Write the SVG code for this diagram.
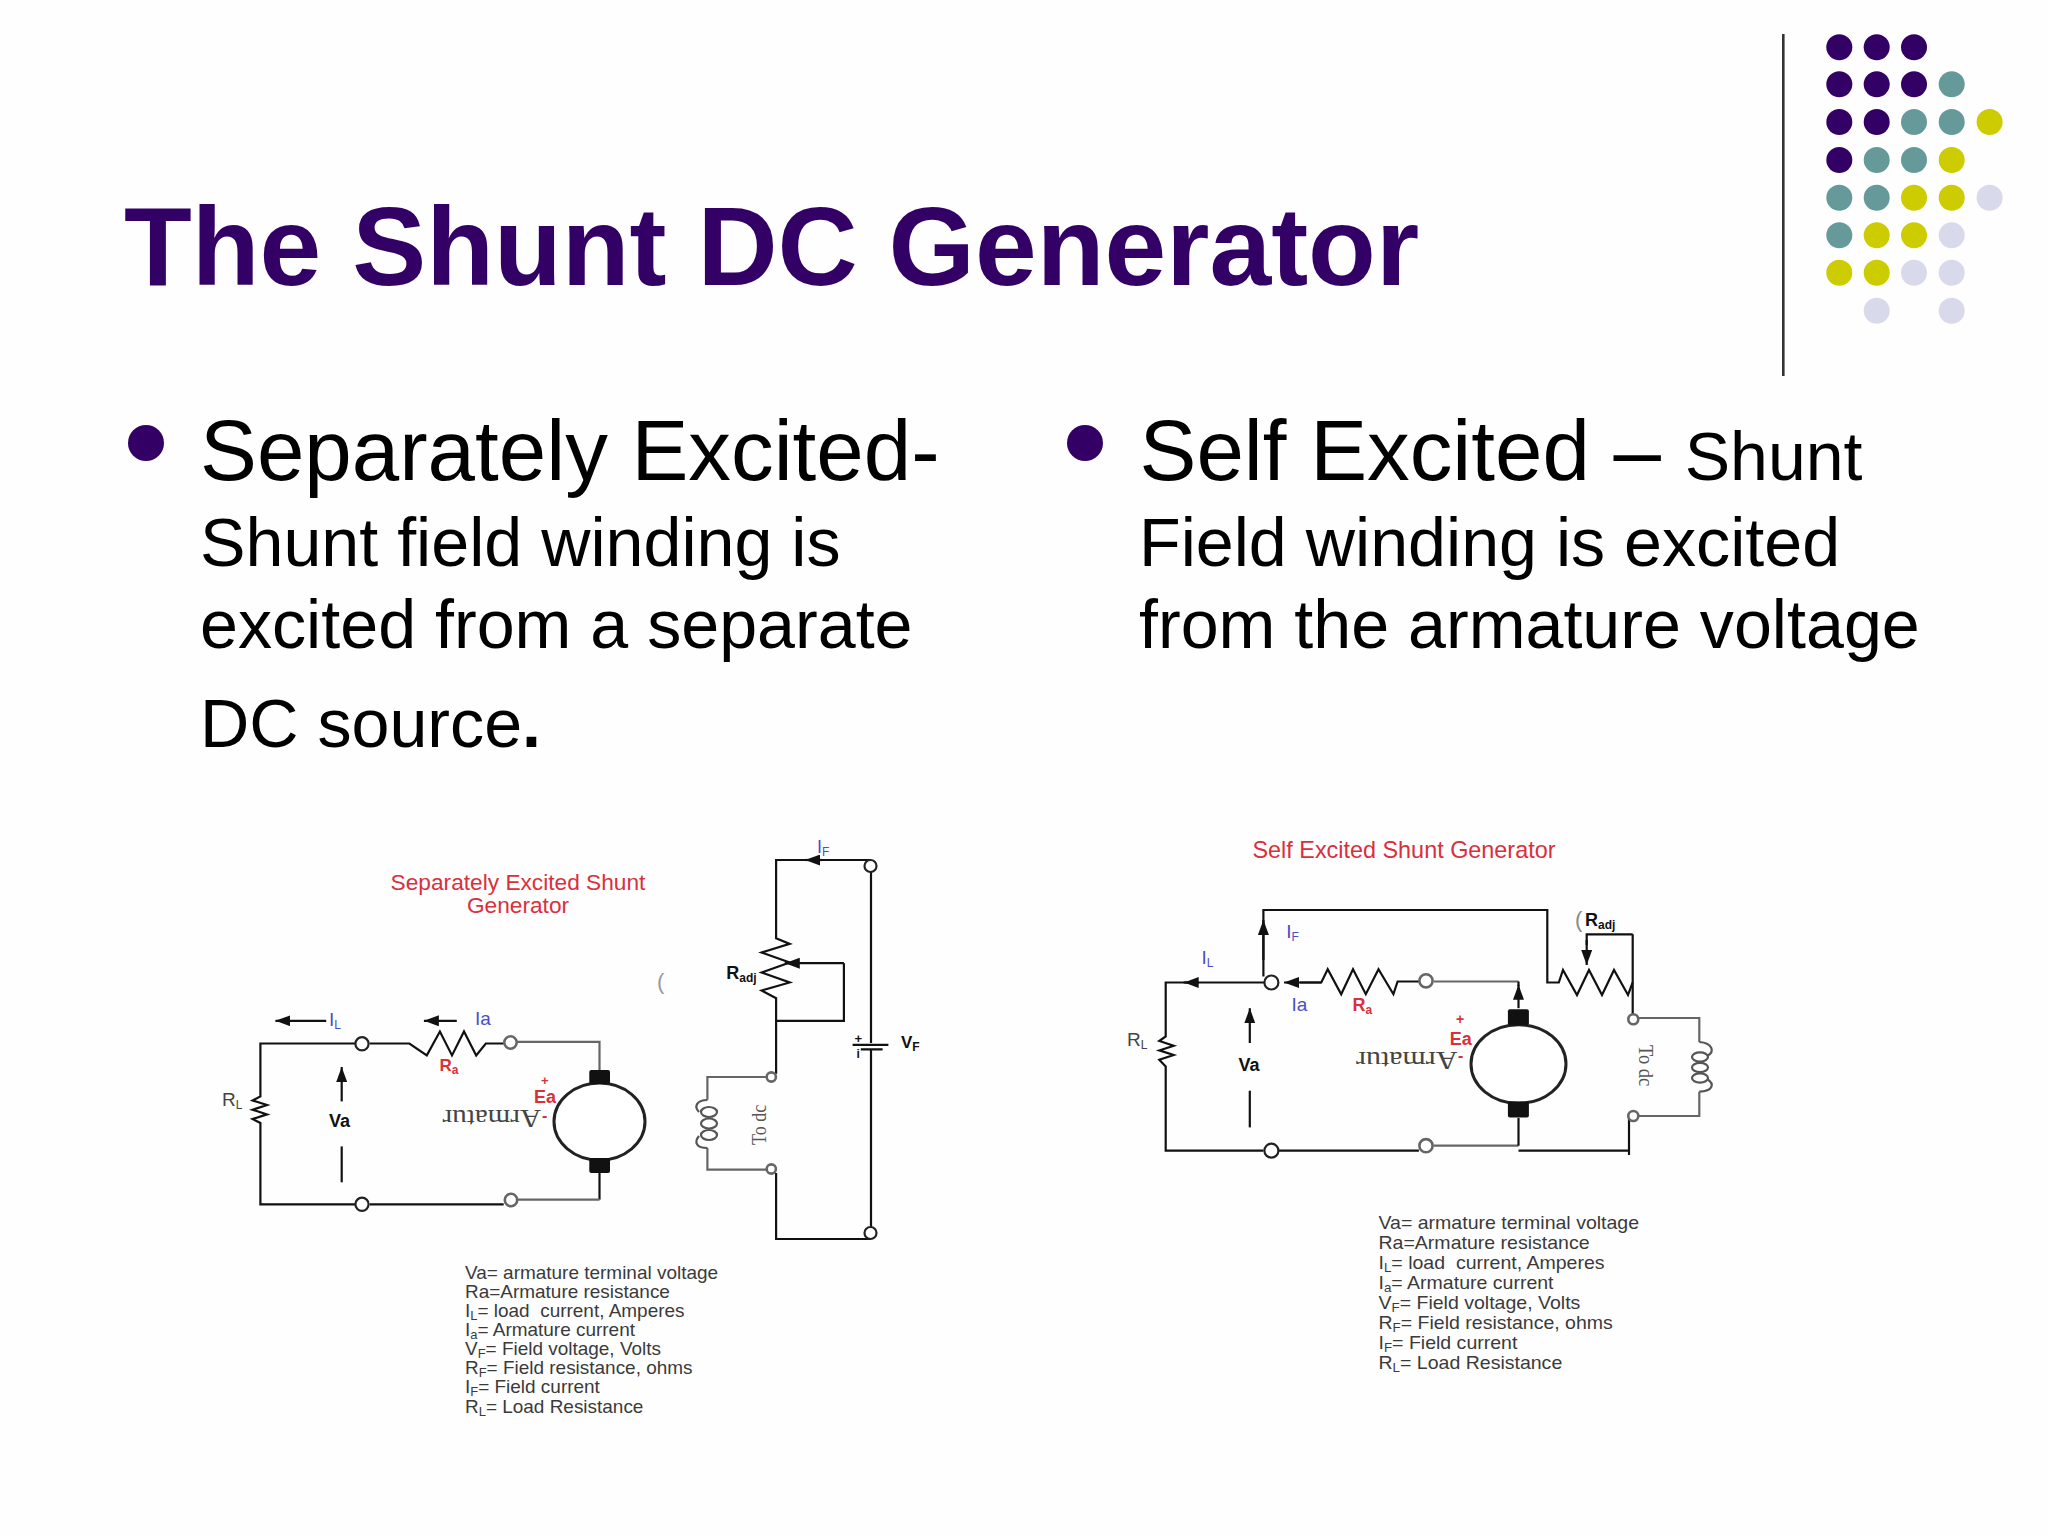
<svg xmlns="http://www.w3.org/2000/svg" width="2048" height="1536" viewBox="0 0 2048 1536">
<style>
text{font-family:"Liberation Sans",Arial,sans-serif}
.title{font-size:111px;font-weight:700;fill:#330066}
.b1{font-size:85.3px;fill:#000}
.b2{font-size:68.2px;fill:#000}
.w{fill:none;stroke:#111;stroke-width:2.2;stroke-linejoin:miter}
.a{fill:none;stroke:#111;stroke-width:2.2;marker-end:url(#ah)}
.g{fill:none;stroke:#666;stroke-width:2.2}
.t{fill:#fff;stroke:#222;stroke-width:2.2}
.tg{fill:#fff;stroke:#666;stroke-width:2.6}
.red{fill:#d9303c}
.redb{fill:#d9303c;font-weight:700}
.blue{fill:#4a4fc4}
.bk{fill:#111;font-weight:700}
.gr{fill:#444}
.ser{font-family:"Liberation Serif","Times New Roman",serif;fill:#555}
.arm{font-family:"Liberation Serif","Times New Roman",serif;fill:#444;font-size:30px}
.leg{font-size:17.6px;fill:#3a3a3a;white-space:pre}
.s{font-size:12px}
.d1{fill:#330066}.d2{fill:#669999}.d3{fill:#cccc00}.d4{fill:#d9d9ec}
.coil{fill:none;stroke:#555;stroke-width:2.2}
</style>
<defs>
<marker id="ah" markerUnits="userSpaceOnUse" markerWidth="15" markerHeight="11" refX="15" refY="5.5" orient="auto"><path d="M0 0L15 5.5L0 11Z" fill="#111"/></marker>
</defs>
<rect width="2048" height="1536" fill="#fefefe"/>
<g id="decor">
<line x1="1783.3" y1="34" x2="1783.3" y2="376" stroke="#333" stroke-width="2.6"/>
<g id="dots">
<circle class="d1" cx="1839.3" cy="47.3" r="13"/><circle class="d1" cx="1876.7" cy="47.3" r="13"/><circle class="d1" cx="1914" cy="47.3" r="13"/>
<circle class="d1" cx="1839.3" cy="84.3" r="13"/><circle class="d1" cx="1876.7" cy="84.3" r="13"/><circle class="d1" cx="1914" cy="84.3" r="13"/><circle class="d2" cx="1951.7" cy="84.3" r="13"/>
<circle class="d1" cx="1839.3" cy="122" r="13"/><circle class="d1" cx="1876.7" cy="122" r="13"/><circle class="d2" cx="1914" cy="122" r="13"/><circle class="d2" cx="1951.7" cy="122" r="13"/><circle class="d3" cx="1989.6" cy="122" r="13"/>
<circle class="d1" cx="1839.3" cy="160" r="13"/><circle class="d2" cx="1876.7" cy="160" r="13"/><circle class="d2" cx="1914" cy="160" r="13"/><circle class="d3" cx="1951.7" cy="160" r="13"/>
<circle class="d2" cx="1839.3" cy="197.7" r="13"/><circle class="d2" cx="1876.7" cy="197.7" r="13"/><circle class="d3" cx="1914" cy="197.7" r="13"/><circle class="d3" cx="1951.7" cy="197.7" r="13"/><circle class="d4" cx="1989.6" cy="197.7" r="13"/>
<circle class="d2" cx="1839.3" cy="235.3" r="13"/><circle class="d3" cx="1876.7" cy="235.3" r="13"/><circle class="d3" cx="1914" cy="235.3" r="13"/><circle class="d4" cx="1951.7" cy="235.3" r="13"/>
<circle class="d3" cx="1839.3" cy="272.7" r="13"/><circle class="d3" cx="1876.7" cy="272.7" r="13"/><circle class="d4" cx="1914" cy="272.7" r="13"/><circle class="d4" cx="1951.7" cy="272.7" r="13"/>
<circle class="d4" cx="1876.7" cy="310.7" r="13"/><circle class="d4" cx="1951.7" cy="310.7" r="13"/>
</g>
</g>
<text id="title" class="title" x="124" y="285">The Shunt DC Generator</text>
<g id="left-text">
<circle cx="146" cy="443" r="18" fill="#330066"/>
<text class="b1" x="200" y="480">Separately Excited-</text>
<text class="b2" x="200" y="566">Shunt field winding is</text>
<text class="b2" x="200" y="648">excited from a separate</text>
<text class="b2" x="200" y="747">DC source<tspan font-weight="700">.</tspan></text>
</g>
<g id="right-text">
<circle cx="1085" cy="443" r="18" fill="#330066"/>
<text class="b1" x="1139.5" y="480">Self Excited – <tspan font-size="68">Shunt</tspan></text>
<text class="b2" x="1139" y="566">Field winding is excited</text>
<text class="b2" x="1139" y="648">from the armature voltage</text>
</g>

<g id="separately-excited">
<g id="sep-connectors">
<path class="w" d="M355.2 1043.5H260.4V1096.4L252.6 1100.4L267 1105L252.6 1109.7L267 1114.4L252.6 1119L260.4 1123V1204.3H355.2"/>
<path class="w" d="M369.7 1043.5H409.4L426.8 1055.4L439.9 1031.5L452 1055.4L464 1031.5L476.2 1055.4L485.8 1043.5H503.7"/>
<path class="g" d="M517.3 1041.8H599.5V1070"/>
<path class="w" d="M599.5 1172.3V1199.6"/>
<path class="g" d="M599.5 1199.6H517.3"/>
<path class="w" d="M369.7 1204.3H503.7"/>
<path class="w" d="M870.5 860H776.1V938.2L789.7 943.9L761.6 952.5L789.7 962.5L761.6 972.5L789.7 982.5L761.6 990.5L776.1 998.2V1073.8"/>
<path class="a" d="M843.9 963.2H784.8"/>
<path class="w" d="M843.9 963.2V1020.8H776.1"/>
<path class="w" d="M871 870.6V1043M871 1049.8V1228M870.5 1239H776.1V1173"/>
<path class="g" d="M766.4 1077H707.4V1099.7M707.4 1148V1169.7H766.4"/>
<path class="w" d="M852.6 1044.8H888.4M860.8 1049.4H882.6"/>
<path class="a" d="M326.2 1020.8H275.4"/>
<path class="a" d="M456.8 1020.8H423.9"/>
<path class="a" d="M341.7 1101.4V1067"/>
<path class="w" d="M341.7 1146.4V1182.3"/>
<path class="a" d="M822 860H805.2"/>
</g>
<g id="sep-coil">
<path class="coil" d="M707.4 1100C696 1100 694 1107 699 1112M699 1136C694 1142 696 1148 707.4 1148"/>
<ellipse class="coil" cx="709" cy="1112" rx="8" ry="5"/><ellipse class="coil" cx="709" cy="1123.5" rx="8" ry="5"/><ellipse class="coil" cx="709" cy="1135" rx="8" ry="5"/>
</g>
<g id="sep-term-1"><circle class="t" cx="362" cy="1043.8" r="6.6"/></g>
<g id="sep-term-2"><circle class="t" cx="362" cy="1204.3" r="6.6"/></g>
<g id="sep-term-3"><circle class="tg" cx="510.5" cy="1042.5" r="6.2"/></g>
<g id="sep-term-4"><circle class="tg" cx="511" cy="1200" r="6.2"/></g>
<g id="sep-term-5"><circle class="t" cx="870.5" cy="866" r="6"/></g>
<g id="sep-term-6"><circle class="t" cx="870.5" cy="1233" r="6"/></g>
<g id="sep-term-7"><circle class="tg" cx="771.3" cy="1077" r="4.6"/></g>
<g id="sep-term-8"><circle class="tg" cx="771.3" cy="1169" r="4.6"/></g>
<g id="sep-armature">
<ellipse cx="599.5" cy="1121.6" rx="45.5" ry="38.5" fill="#fff" stroke="#222" stroke-width="3"/>
<rect x="589.3" y="1070" width="20.7" height="14" rx="2" fill="#111"/>
<rect x="589.3" y="1158" width="20.7" height="15" rx="2" fill="#111"/>
<text class="arm" transform="translate(541 1110) rotate(180) scale(.97 .85)">Armatur</text>
</g>
<g id="sep-labels">
<text class="red" x="518" y="889.5" font-size="22.7" text-anchor="middle">Separately Excited Shunt</text>
<text class="red" x="518" y="913" font-size="22.7" text-anchor="middle">Generator</text>
<text class="blue" x="329" y="1026" font-size="19">I<tspan class="s" dy="3">L</tspan></text>
<text class="blue" x="475" y="1025" font-size="19">Ia</text>
<text class="redb" x="439.4" y="1070.5" font-size="17">R<tspan class="s" dy="3">a</tspan></text>
<text class="redb" x="541" y="1085" font-size="13">+</text>
<text class="redb" x="534" y="1103" font-size="18">Ea</text>
<text class="redb" x="542" y="1121" font-size="16">-</text>
<text class="gr" x="222" y="1105.7" font-size="19">R<tspan class="s" dy="3">L</tspan></text>
<text class="bk" x="329" y="1127" font-size="18">Va</text>
<text class="bk" x="726.3" y="979" font-size="18">R<tspan class="s" dy="3">adj</tspan></text>
<text class="bk" x="901" y="1048" font-size="17">V<tspan class="s" dy="3">F</tspan></text>
<text class="blue" x="817" y="853" font-size="18">I<tspan class="s" dy="3">F</tspan></text>
<text class="bk" x="854.5" y="1043" font-size="13">+</text>
<text class="bk" x="856.4" y="1058" font-size="12">i</text>
<text x="657" y="989" font-size="22" fill="#999">(</text>
<text class="ser" font-size="21" transform="translate(766.4 1145) rotate(-90) scale(.86 1)">To dc</text>
</g>
</g>
<g id="sep-legend" transform="translate(465 1) scale(1.078 1)">
<text class="leg" x="0" y="1277.7">Va= armature terminal voltage</text>
<text class="leg" x="0" y="1296.7">Ra=Armature resistance</text>
<text class="leg" x="0" y="1316">I<tspan class="s" dy="3">L</tspan><tspan dy="-3">= load  current, Amperes</tspan></text>
<text class="leg" x="0" y="1335">I<tspan class="s" dy="3">a</tspan><tspan dy="-3">= Armature current</tspan></text>
<text class="leg" x="0" y="1354">V<tspan class="s" dy="3">F</tspan><tspan dy="-3">= Field voltage, Volts</tspan></text>
<text class="leg" x="0" y="1373.3">R<tspan class="s" dy="3">F</tspan><tspan dy="-3">= Field resistance, ohms</tspan></text>
<text class="leg" x="0" y="1392.3">I<tspan class="s" dy="3">F</tspan><tspan dy="-3">= Field current</tspan></text>
<text class="leg" x="0" y="1411.7">R<tspan class="s" dy="3">L</tspan><tspan dy="-3">= Load Resistance</tspan></text>
</g>

<g id="self-excited">
<g id="self-connectors">
<path class="w" d="M1264.4 982.5H1165.7V1036.5L1159.3 1041L1173.7 1045.8L1159.3 1050.4L1173.7 1055L1159.3 1059.8L1165.7 1066.4V1150.7H1263.4"/>
<path class="a" d="M1198.6 982.5H1183.7"/>
<path class="w" d="M1279 1150.7H1418.9"/>
<path class="g" d="M1433.7 1145.7H1518.5"/>
<path class="w" d="M1518.5 1145.7V1118"/>
<path class="g" d="M1518.5 981.5H1433.7"/>
<path class="a" d="M1518.5 1008.2V984.8"/>
<path class="w" d="M1518.5 981.5V986"/>
<path class="w" d="M1418.9 981.5H1397.6L1393.4 994.2L1378.5 969.2L1365.8 994.2L1353 969.2L1341.2 994.2L1327.7 969.2L1321.3 982.5H1300"/>
<path class="a" d="M1321.3 982.5H1284"/>
<path class="w" d="M1263.4 976.5V910H1547.3V982.5H1558.8L1563 970L1577 995L1589 970L1602 995L1614 970L1628 995L1632.7 982.5"/>
<path class="a" d="M1263.4 960V920"/>
<path class="w" d="M1632.7 934.3V1014.8M1632.7 934.3H1586.7V945"/>
<path class="a" d="M1586.7 940V965"/>
<path class="g" d="M1639 1018H1699.3V1042M1699.3 1091.7V1116H1639"/>
<path class="w" d="M1629 1116V1155M1518.5 1150.7H1630"/>
<path class="a" d="M1249.8 1043V1008.2"/>
<path class="w" d="M1249.8 1090.7V1127.4"/>
</g>
<g id="self-coil">
<path class="coil" d="M1699.3 1042C1713 1043 1715 1052 1707 1056M1707 1079C1715 1084 1713 1091 1699.3 1091.7"/>
<ellipse class="coil" cx="1700" cy="1057" rx="8" ry="4.6"/><ellipse class="coil" cx="1700" cy="1067.5" rx="8" ry="4.6"/><ellipse class="coil" cx="1700" cy="1078" rx="8" ry="4.6"/>
</g>
<g id="self-term-1"><circle class="t" cx="1271.4" cy="982.5" r="7"/></g>
<g id="self-term-2"><circle class="t" cx="1271.4" cy="1150.7" r="7"/></g>
<g id="self-term-3"><circle class="tg" cx="1426" cy="980.8" r="6.6"/></g>
<g id="self-term-4"><circle class="tg" cx="1426" cy="1145.7" r="6.6"/></g>
<g id="self-term-5"><circle class="tg" cx="1633.3" cy="1019.3" r="5"/></g>
<g id="self-term-6"><circle class="tg" cx="1633.3" cy="1116" r="5"/></g>
<g id="self-armature">
<ellipse cx="1518.5" cy="1064" rx="47.5" ry="39.3" fill="#fff" stroke="#222" stroke-width="3"/>
<rect x="1507.9" y="1009.2" width="21" height="16" rx="2" fill="#111"/>
<rect x="1507.9" y="1101.4" width="21" height="16" rx="2" fill="#111"/>
<text class="arm" transform="translate(1457.5 1052) rotate(180) scale(1 .85)">Armatur</text>
</g>
<g id="self-labels">
<text class="red" x="1252.5" y="858" font-size="23.4">Self Excited Shunt Generator</text>
<text class="blue" x="1201.5" y="964" font-size="19">I<tspan class="s" dy="3">L</tspan></text>
<text class="blue" x="1286.3" y="938" font-size="19">I<tspan class="s" dy="3">F</tspan></text>
<text class="blue" x="1291.4" y="1011" font-size="19">Ia</text>
<text class="redb" x="1352.4" y="1011" font-size="18">R<tspan class="s" dy="3">a</tspan></text>
<text class="redb" x="1456" y="1024" font-size="14">+</text>
<text class="redb" x="1449.8" y="1045" font-size="18">Ea</text>
<text class="redb" x="1458" y="1061" font-size="16">-</text>
<text class="gr" x="1127" y="1046" font-size="19">R<tspan class="s" dy="3">L</tspan></text>
<text class="bk" x="1238.5" y="1071" font-size="18">Va</text>
<text x="1575" y="927" font-size="22" fill="#888">(</text>
<text class="bk" x="1585" y="926" font-size="18">R<tspan class="s" dy="3">adj</tspan></text>
<text class="ser" font-size="21" transform="translate(1638.5 1045) rotate(90) scale(.88 1)">To dc</text>
</g>
</g>
<g id="self-legend" transform="translate(1378.5 0) scale(1.11 1)">
<text class="leg" x="0" y="1229">Va= armature terminal voltage</text>
<text class="leg" x="0" y="1249">Ra=Armature resistance</text>
<text class="leg" x="0" y="1269">I<tspan class="s" dy="3">L</tspan><tspan dy="-3">= load  current, Amperes</tspan></text>
<text class="leg" x="0" y="1289">I<tspan class="s" dy="3">a</tspan><tspan dy="-3">= Armature current</tspan></text>
<text class="leg" x="0" y="1309">V<tspan class="s" dy="3">F</tspan><tspan dy="-3">= Field voltage, Volts</tspan></text>
<text class="leg" x="0" y="1329">R<tspan class="s" dy="3">F</tspan><tspan dy="-3">= Field resistance, ohms</tspan></text>
<text class="leg" x="0" y="1349">I<tspan class="s" dy="3">F</tspan><tspan dy="-3">= Field current</tspan></text>
<text class="leg" x="0" y="1369">R<tspan class="s" dy="3">L</tspan><tspan dy="-3">= Load Resistance</tspan></text>
</g>
</svg>
